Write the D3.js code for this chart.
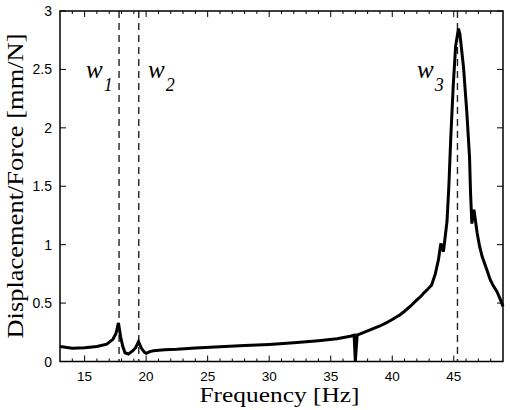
<!DOCTYPE html>
<html>
<head>
<meta charset="utf-8">
<script src="https://cdn.jsdelivr.net/npm/d3@7"></script>
<style>
  body { margin: 0; background: #fff; }
  svg { display: block; }
</style>
</head>
<body>
<script>
// Frequency response data
const freq = [13, 14, 15, 16, 16.8, 17.3, 17.55, 17.75, 17.93, 18.1, 18.28, 18.56, 18.9, 19.15, 19.38,
  19.62, 19.85, 20.0, 20.3, 20.6, 21.5, 22.5, 24, 26, 28, 30, 32, 34, 35.5, 36.6, 36.9, 37.0, 37.15,
  37.3, 38, 38.5, 39, 39.5, 40, 40.64, 41, 41.5, 42.0, 42.3, 42.6, 42.9, 43.2, 43.5, 43.75, 43.95, 44.16,
  44.45, 44.6, 44.75, 44.95, 45.15, 45.38, 45.5, 45.79, 46.05, 46.28, 46.36, 46.47, 46.64, 46.9, 47.1,
  47.3, 47.7, 47.96, 48.2, 48.5, 48.75, 49.0];
const amp = [0.128, 0.113, 0.118, 0.128, 0.148, 0.19, 0.24, 0.33, 0.21, 0.13, 0.075, 0.064, 0.09, 0.118, 0.17,
  0.113, 0.08, 0.07, 0.085, 0.092, 0.1, 0.105, 0.116, 0.126, 0.136, 0.146, 0.16, 0.178, 0.195, 0.216, 0.225, 0.005, 0.228,
  0.232, 0.262, 0.283, 0.304, 0.33, 0.36, 0.40, 0.43, 0.475, 0.527, 0.555, 0.59, 0.62, 0.655, 0.75, 0.87, 1.01, 0.94,
  1.2, 1.5, 1.9, 2.35, 2.7, 2.85, 2.8, 2.52, 2.15, 1.75, 1.45, 1.18, 1.30, 1.1, 0.985,
  0.9, 0.78, 0.70, 0.65, 0.6, 0.54, 0.47];

// Resonance markers
const modeFreq = [17.8, 19.4, 45.3];
const modeLabel = ['1', '2', '3'];
const modeLabelX = [86, 148, 417];

const xTicks = [15, 20, 25, 30, 35, 40, 45];
const yTicks = [0, 0.5, 1, 1.5, 2, 2.5, 3];

const W = 510, H = 410;
const margin = { left: 60, right: 7, top: 11, bottom: 48.5 };
const w = W - margin.left - margin.right;
const h = H - margin.top - margin.bottom;

const svg = d3.select('body').append('svg')
  .attr('width', W)
  .attr('height', H);

const g = svg.append('g')
  .attr('transform', 'translate(' + margin.left + ',' + margin.top + ')');

const x = d3.scaleLinear().domain([13, 49]).range([0, w]);
const y = d3.scaleLinear().domain([0, 3]).range([h, 0]);

// minor x ticks every 1 Hz (inside, bottom + top)
const minor = d3.range(14, 49, 1).filter(v => v % 5 !== 0);
const tickG = g.append('g').attr('stroke', '#000').attr('stroke-width', 1);
minor.forEach(v => {
  tickG.append('line').attr('x1', x(v)).attr('x2', x(v)).attr('y1', h).attr('y2', h - 3);
  tickG.append('line').attr('x1', x(v)).attr('x2', x(v)).attr('y1', 0).attr('y2', 3);
});
xTicks.forEach(v => {
  tickG.append('line').attr('x1', x(v)).attr('x2', x(v)).attr('y1', h).attr('y2', h - 6);
  tickG.append('line').attr('x1', x(v)).attr('x2', x(v)).attr('y1', 0).attr('y2', 6);
});
yTicks.forEach(v => {
  tickG.append('line').attr('x1', 0).attr('x2', 6).attr('y1', y(v)).attr('y2', y(v));
  tickG.append('line').attr('x1', w).attr('x2', w - 6).attr('y1', y(v)).attr('y2', y(v));
});

// tick labels
g.append('g').selectAll('text').data(xTicks).join('text')
  .attr('x', d => x(d))
  .attr('y', h + 19.5)
  .attr('text-anchor', 'middle')
  .style('font-family', '"Liberation Sans", Arial, sans-serif')
  .style('font-size', '13.5px')
  .text(d => d);

g.append('g').selectAll('text').data(yTicks).join('text')
  .attr('x', -8)
  .attr('y', d => y(d))
  .attr('dy', '0.36em')
  .attr('text-anchor', 'end')
  .style('font-family', '"Liberation Sans", Arial, sans-serif')
  .style('font-size', '14px')
  .text(d => d);

// dashed resonance lines
g.append('g').selectAll('line').data(modeFreq).join('line')
  .attr('x1', d => x(d)).attr('x2', d => x(d))
  .attr('y1', y(3)).attr('y2', y(0))
  .attr('stroke', '#222')
  .attr('stroke-width', 1.4)
  .attr('stroke-dasharray', '7,5');

// response curve
const line = d3.line()
  .x(d => x(d[0]))
  .y(d => y(d[1]));

g.append('path')
  .datum(freq.map((f, i) => [f, amp[i]]))
  .attr('d', line)
  .attr('fill', 'none')
  .attr('stroke', '#000')
  .attr('stroke-width', 3)
  .attr('stroke-linejoin', 'miter')
  .attr('stroke-miterlimit', 3);

// frame
g.append('rect')
  .attr('width', w).attr('height', h)
  .attr('fill', 'none')
  .attr('stroke', '#000')
  .attr('stroke-width', 1.5);

// w labels
modeLabel.forEach((s, i) => {
  const t = svg.append('text')
    .attr('x', modeLabelX[i])
    .attr('y', 78)
    .style('font-family', '"Liberation Serif", "Times New Roman", serif')
    .style('font-style', 'italic')
    .style('font-size', '25px')
    .text('w');
  t.append('tspan')
    .attr('dx', 1)
    .attr('dy', 13)
    .style('font-size', '18px')
    .text(s);
});

// axis titles
svg.append('text')
  .attr('x', margin.left + w / 2 - 2)
  .attr('y', 402)
  .attr('text-anchor', 'middle')
  .attr('textLength', 160)
  .attr('lengthAdjust', 'spacingAndGlyphs')
  .style('font-family', '"Liberation Serif", "Times New Roman", serif')
  .style('font-size', '20px')
  .text('Frequency [Hz]');

svg.append('text')
  .attr('transform', 'translate(23,186) rotate(-90)')
  .attr('text-anchor', 'middle')
  .attr('textLength', 305)
  .attr('lengthAdjust', 'spacingAndGlyphs')
  .style('font-family', '"Liberation Serif", "Times New Roman", serif')
  .style('font-size', '23px')
  .text('Displacement/Force [mm/N]');
</script>
</body>
</html>
